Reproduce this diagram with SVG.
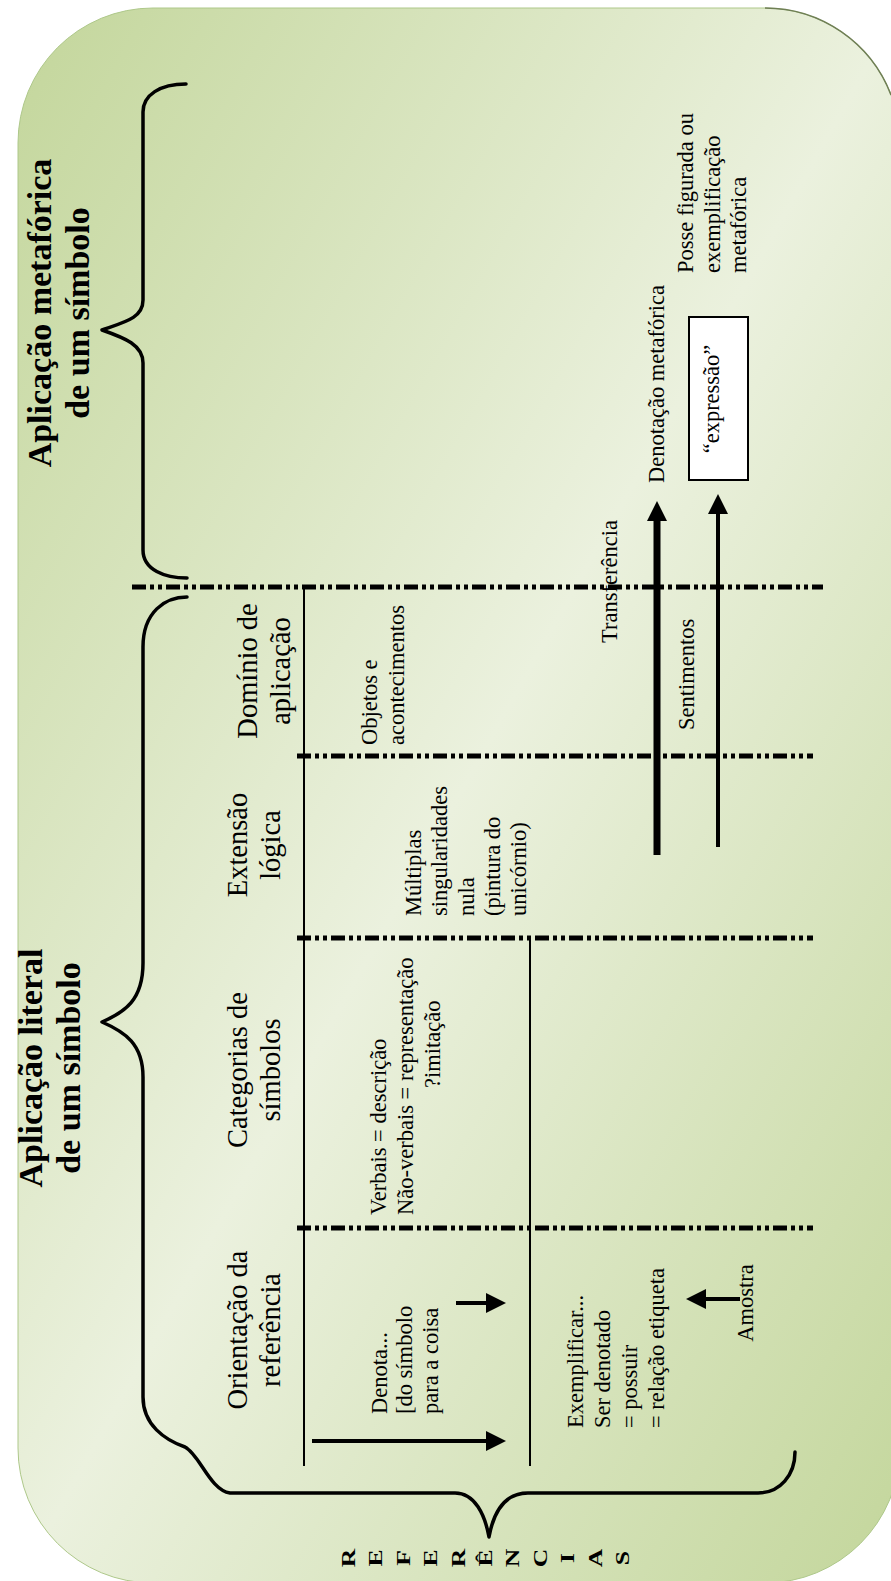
<svg xmlns="http://www.w3.org/2000/svg" width="891" height="1581" viewBox="0 0 891 1581">
<defs>
<linearGradient id="bg" x1="0" y1="0" x2="1" y2="1">
<stop offset="0" stop-color="#c3d69b"/>
<stop offset="0.5" stop-color="#ebf1de"/>
<stop offset="1" stop-color="#c3d69b"/>
</linearGradient>
<marker id="ah" markerUnits="userSpaceOnUse" markerWidth="20" markerHeight="20" refX="0" refY="10" orient="auto" viewBox="0 0 20 20"><path d="M0,0 L20,10 L0,20 Z" fill="#000"/></marker>
<style>
.t{font-family:"Liberation Serif","Times New Roman",serif;fill:#000}
.ti{font-size:34px;font-weight:bold}
.hd{font-size:28.5px}
.cl{font-size:22.5px}
.rf{font-size:19px;font-weight:bold}
.dash{stroke:#000;stroke-width:5;stroke-dasharray:14 4 4 4 4 4;fill:none}
.thin{stroke:#000;stroke-width:2;fill:none}
.brace{fill:none;stroke:#000;stroke-width:3.5;stroke-linejoin:round;stroke-linecap:round}
.arr{stroke:#000;fill:none;marker-end:url(#ah)}
</style>
</defs>

<g id="background">
<rect x="18" y="8" width="882" height="1575" rx="135" ry="135" fill="url(#bg)" stroke="#aec88a" stroke-width="1"/>
<path d="M765,8 A135,135 0 0 1 891,95" fill="none" stroke="#6f7f55" stroke-width="1.5"/>
</g>

<g id="title-metaforica" class="t ti" text-anchor="middle">
<text transform="translate(0,313) rotate(-90)"><tspan x="0" y="51">Aplicação metafórica</tspan><tspan x="0" y="89">de um símbolo</tspan></text>
</g>
<g id="title-literal" class="t ti" text-anchor="middle">
<text transform="translate(0,1068) rotate(-90)"><tspan x="0" y="42">Aplicação literal</tspan><tspan x="0" y="80">de um símbolo</tspan></text>
</g>

<g id="braces">
<path class="brace" d="M186,84 C160,84 143,95 143,112 L143,300 C143,318 125,322 102,330 C125,338 143,345 143,363 L143,550 C143,570 165,578 187,578"/>
<path class="brace" d="M187,597 C165,597 143,612 143,647 L143,963 C143,1000 125,1012 102,1022 C125,1032 143,1044 143,1077 L143,1397 C143,1425 165,1440 185,1447 C200,1455 210,1490 230,1493 L455,1493 C475,1493 485,1515 489,1537 C493,1515 503,1493 528,1493 L758,1493 C780,1493 795,1475 795,1452"/>
</g>

<g id="referencias" class="t rf" text-anchor="middle">
<text transform="translate(355,1558) rotate(-90) scale(1.35,1)">R</text>
<text transform="translate(382,1558) rotate(-90) scale(1.35,1)">E</text>
<text transform="translate(410,1558) rotate(-90) scale(1.35,1)">F</text>
<text transform="translate(437,1558) rotate(-90) scale(1.35,1)">E</text>
<text transform="translate(465,1558) rotate(-90) scale(1.35,1)">R</text>
<text transform="translate(492,1558) rotate(-90) scale(1.35,1)">Ê</text>
<text transform="translate(519,1558) rotate(-90) scale(1.35,1)">N</text>
<text transform="translate(547,1558) rotate(-90) scale(1.35,1)">C</text>
<text transform="translate(574,1558) rotate(-90) scale(1.35,1)">I</text>
<text transform="translate(602,1558) rotate(-90) scale(1.35,1)">A</text>
<text transform="translate(629,1558) rotate(-90) scale(1.35,1)">S</text>
</g>

<g id="grid">
<line class="dash" x1="132" y1="587" x2="823" y2="587"/>
<line class="dash" x1="297" y1="756" x2="813" y2="756"/>
<line class="dash" x1="297" y1="938" x2="813" y2="938"/>
<line class="dash" x1="297" y1="1228" x2="813" y2="1228"/>
<line class="thin" x1="304" y1="587" x2="304" y2="1466"/>
<line class="thin" x1="530" y1="938" x2="530" y2="1466"/>
</g>

<g id="headers" class="t hd" text-anchor="middle">
<text id="h-orientacao" transform="translate(0,1330) rotate(-90)"><tspan x="0" y="247">Orientação da</tspan><tspan x="0" y="280">referência</tspan></text>
<text id="h-categorias" transform="translate(0,1070) rotate(-90)"><tspan x="0" y="247">Categorias de</tspan><tspan x="0" y="280">símbolos</tspan></text>
<text id="h-extensao" transform="translate(0,845) rotate(-90)"><tspan x="0" y="247">Extensão</tspan><tspan x="0" y="280">lógica</tspan></text>
<text id="h-dominio" transform="translate(0,671) rotate(-90)"><tspan x="0" y="257">Domínio de</tspan><tspan x="0" y="290">aplicação</tspan></text>
</g>

<g id="cells" class="t cl">
<text id="c-denota" transform="translate(0,1414) rotate(-90)"><tspan x="0" y="387">Denota...</tspan><tspan x="0" y="412">[do símbolo</tspan><tspan x="0" y="438">para a coisa</tspan></text>
<text id="c-exemplificar" transform="translate(0,1428) rotate(-90)"><tspan x="0" y="583">Exemplificar...</tspan><tspan x="0" y="610">Ser denotado</tspan><tspan x="0" y="637">= possuir</tspan><tspan x="0" y="664">= relação etiqueta</tspan></text>
<text id="c-amostra" transform="translate(0,1303) rotate(-90)" text-anchor="middle"><tspan x="0" y="753">Amostra</tspan></text>
<text id="c-verbais" transform="translate(0,1215) rotate(-90)"><tspan x="0" y="386">Verbais = descrição</tspan><tspan x="0" y="413">Não-verbais = representação</tspan><tspan x="127" y="440">?imitação</tspan></text>
<text id="c-multiplas" transform="translate(0,916) rotate(-90)"><tspan x="0" y="421">Múltiplas</tspan><tspan x="0" y="447">singularidades</tspan><tspan x="0" y="474">nula</tspan><tspan x="0" y="500">(pintura do</tspan><tspan x="0" y="526">unicórnio)</tspan></text>
<text id="c-objetos" transform="translate(0,745) rotate(-90)"><tspan x="0" y="377">Objetos e</tspan><tspan x="0" y="404">acontecimentos</tspan></text>
<text id="c-transferencia" transform="translate(0,643) rotate(-90)"><tspan x="0" y="617">Transferência</tspan></text>
<text id="c-sentimentos" transform="translate(0,730) rotate(-90)"><tspan x="0" y="694">Sentimentos</tspan></text>
<text id="c-denotacao" transform="translate(0,483) rotate(-90)"><tspan x="0" y="664">Denotação metafórica</tspan></text>
<text id="c-posse" transform="translate(0,273) rotate(-90)"><tspan x="0" y="693">Posse figurada ou</tspan><tspan x="0" y="720">exemplificação</tspan><tspan x="0" y="746">metafórica</tspan></text>
</g>

<g id="box-expressao">
<rect x="689" y="317" width="59" height="163" fill="#fff" stroke="#000" stroke-width="2"/>
<text class="t cl" transform="translate(0,399) rotate(-90)" text-anchor="middle"><tspan x="0" y="719">“expressão”</tspan></text>
</g>

<g id="connectors">
<line class="arr" x1="456" y1="1303" x2="486" y2="1303" stroke-width="4"/>
<line class="arr" x1="312" y1="1441" x2="486" y2="1441" stroke-width="4"/>
<line class="arr" x1="740" y1="1299" x2="706" y2="1299" stroke-width="4"/>
<line class="arr" x1="657" y1="855" x2="657" y2="521" stroke-width="7"/>
<line class="arr" x1="718" y1="847" x2="718" y2="514" stroke-width="4"/>
</g>
</svg>
